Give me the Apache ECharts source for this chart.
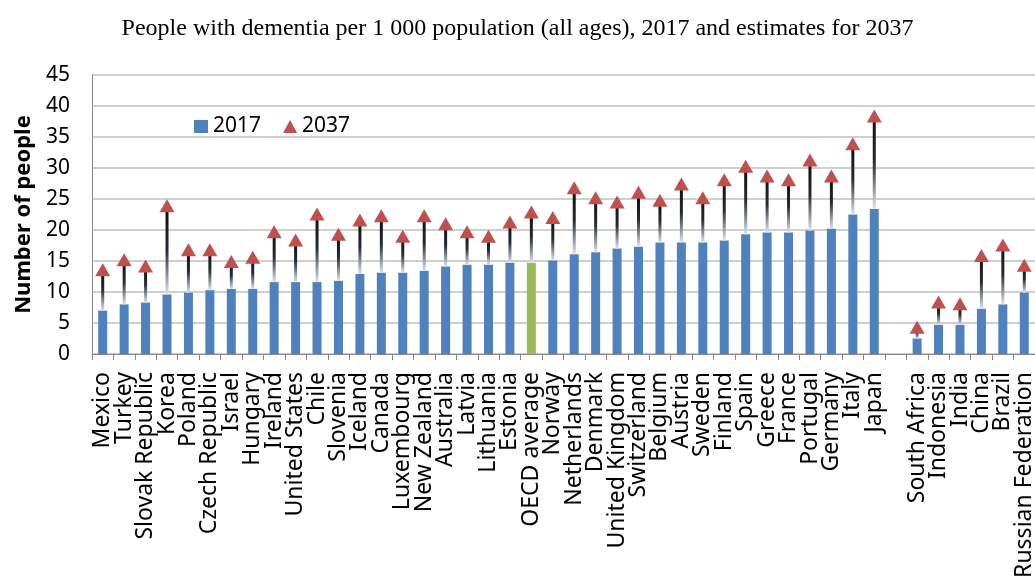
<!DOCTYPE html>
<html>
<head>
<meta charset="utf-8">
<script src="https://cdn.jsdelivr.net/npm/echarts@6/dist/echarts.min.js"></script>
<style>
  html, body { margin: 0; padding: 0; background: #fff; }
  #chart { width: 1035px; height: 577px; }
</style>
</head>
<body>
<div id="chart"></div>
<script>
// categories, '' is the gap between OECD countries and partners
var countries = ['Mexico', 'Turkey', 'Slovak Republic', 'Korea', 'Poland', 'Czech Republic', 'Israel',
  'Hungary', 'Ireland', 'United States', 'Chile', 'Slovenia', 'Iceland', 'Canada', 'Luxembourg',
  'New Zealand', 'Australia', 'Latvia', 'Lithuania', 'Estonia', 'OECD average', 'Norway',
  'Netherlands', 'Denmark', 'United Kingdom', 'Switzerland', 'Belgium', 'Austria', 'Sweden',
  'Finland', 'Spain', 'Greece', 'France', 'Portugal', 'Germany', 'Italy', 'Japan', '',
  'South Africa', 'Indonesia', 'India', 'China', 'Brazil', 'Russian Federation']

var v2017 = [7.0, 8.0, 8.3, 9.6, 9.9, 10.3, 10.5,
  10.5, 11.6, 11.6, 11.6, 11.8, 12.9, 13.1, 13.1,
  13.4, 14.1, 14.4, 14.4, 14.7, 14.7, 15.1,
  16.1, 16.4, 17.0, 17.3, 18.0, 18.0, 18.0,
  18.3, 19.3, 19.6, 19.6, 19.9, 20.2, 22.5, 23.4, null,
  2.5, 4.7, 4.7, 7.3, 8.0, 9.9]

var v2037 = [13.6, 15.2, 14.2, 23.9, 16.8, 16.8, 14.9,
  15.6, 19.7, 18.4, 22.6, 19.3, 21.6, 22.3, 19.0,
  22.3, 21.0, 19.7, 19.0, 21.3, 22.9, 22.0,
  26.8, 25.2, 24.5, 26.1, 24.8, 27.4, 25.2,
  28.1, 30.3, 28.7, 28.1, 31.3, 28.7, 33.9, 38.4, null,
  4.3, 8.4, 8.1, 15.9, 17.6, 14.3]

var yTicks = [0, 5, 10, 15, 20, 25, 30, 35, 40, 45]

var chart = echarts.init(document.getElementById('chart'))

var barData = v2017.map(function (v, i) {
  if (countries[i] === 'OECD average') {
    return { value: v, itemStyle: { color: '#9BBB59' } }
  }
  return v
})

var rangeData = []
for (var i = 0; i < countries.length; i++) {
  if (v2017[i] != null) rangeData.push([i, v2017[i], v2037[i]])
}

var option = {
  animation: false,
  title: {
    text: 'People with dementia per 1 000 population (all ages), 2017 and estimates for 2037',
    left: 'center',
    top: 12,
    textStyle: {
      fontFamily: 'Liberation Serif',
      fontWeight: 'normal',
      fontSize: 24,
      color: '#000'
    }
  },
  legend: {
    data: [{ name: '2017', icon: 'rect' }, { name: '2037', icon: 'triangle' }],
    left: 189,
    top: 111,
    itemWidth: 14,
    itemHeight: 13,
    itemGap: 22,
    textStyle: { fontFamily: 'Noto Sans', fontSize: 21, color: '#000' }
  },
  grid: { left: 92, right: 0, top: 75, bottom: 223, outerBoundsMode: 'none', containLabel: false },
  xAxis: {
    type: 'category',
    data: countries,
    axisLine: { lineStyle: { color: '#888', width: 1 } },
    axisTick: { show: true, length: 6, lineStyle: { color: '#888' } },
    axisLabel: {
      interval: 0,
      rotate: 90,
      margin: 18,
      fontFamily: 'Noto Sans',
      fontSize: 23,
      color: '#000'
    }
  },
  yAxis: {
    type: 'value',
    min: 0,
    max: 45,
    interval: 5,
    name: 'Number of people',
    nameLocation: 'middle',
    nameGap: 56,
    nameTextStyle: { fontFamily: 'Noto Sans', fontWeight: 'bold', fontSize: 22, color: '#000' },
    axisLine: { show: true, lineStyle: { color: '#888' } },
    axisTick: { show: false },
    axisLabel: {
      fontFamily: 'Noto Sans',
      fontSize: 21,
      color: '#000',
      margin: 22,
      formatter: function (v) { return yTicks.indexOf(v) >= 0 ? String(v) : '' }
    },
    splitLine: { lineStyle: { color: '#BFBFBF', width: 1.5 } }
  },
  series: [{
    name: '2017',
    type: 'bar',
    barWidth: 9,
    z: 2,
    itemStyle: { color: '#4F81BD' },
    data: barData
  }, {
    type: 'custom',
    z: 3,
    silent: true,
    renderItem: function (params, api) {
      var p1 = api.coord([api.value(0), api.value(1)])
      var p2 = api.coord([api.value(0), api.value(2)])
      return {
        type: 'line',
        shape: { x1: p1[0], y1: p1[1], x2: p2[0], y2: p2[1] },
        style: {
          lineWidth: 3,
          stroke: new echarts.graphic.LinearGradient(0, p2[1], 0, p1[1], [
            { offset: 0, color: '#0d0d0d' },
            { offset: 0.5, color: '#252b33' },
            { offset: 1, color: '#dce4ee' }
          ], true)
        }
      }
    },
    encode: { x: 0, y: [1, 2] },
    data: rangeData
  }, {
    name: '2037',
    type: 'scatter',
    symbol: 'triangle',
    symbolSize: [15, 13],
    z: 4,
    itemStyle: { color: '#C0504D', opacity: 1 },
    data: v2037
  }]
}

chart.setOption(option)
</script>
</body>
</html>
